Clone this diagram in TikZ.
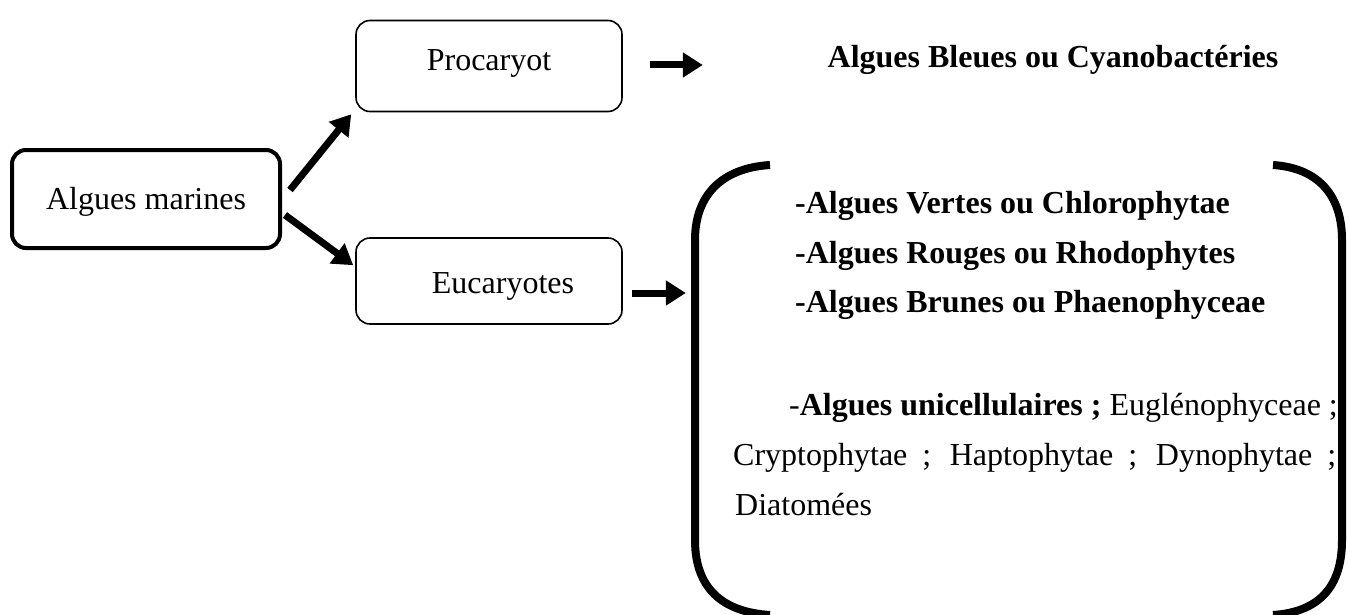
\documentclass[tikz,border=0pt]{standalone}
\usepackage{fontspec}
\setmainfont{Liberation Serif}
\usetikzlibrary{arrows.meta,calc}

\begin{document}
\begin{tikzpicture}[x=1pt,y=-1pt,
  every node/.style={font=\fontsize{32}{38}\selectfont,inner sep=0pt},
  bigbox/.style={draw,line width=4pt,rounded corners=14pt,minimum width=268pt,minimum height=98pt,text height=22pt,text depth=6pt},
  smallbox/.style={draw,line width=1.6pt,rounded corners=14pt,minimum width=266pt,text height=22pt,text depth=6pt},
  boldtext/.style={anchor=base west,font=\fontsize{32}{38}\selectfont\bfseries},
  arr/.style={line width=7pt,-{Triangle[length=20pt,width=24pt]}},
  brk/.style={line width=8pt}]
\useasboundingbox (0,0) rectangle (1348,615);
% boxes
\node[bigbox] (marines) at (146,199) {\raisebox{-2pt}{Algues marines}};
\node[smallbox,minimum height=91pt] (procaryot) at (489,66) {\raisebox{3pt}{Procaryot}};
\node[smallbox,minimum height=86pt] (eucaryotes) at (489,281) {\raisebox{-4pt}{\hspace*{28pt}Eucaryotes}};
% texts
\node[anchor=base,font=\fontsize{32}{38}\selectfont\bfseries] (bleues) at (1053,68) {Algues Bleues ou Cyanobactéries};
\node[boldtext] (vertes) at (795,213) {-Algues Vertes ou Chlorophytae};
\node[boldtext] (rouges) at (795,263) {-Algues Rouges ou Rhodophytes};
\node[boldtext] (brunes) at (795,312) {-Algues Brunes ou Phaenophyceae};
\node[anchor=base west] (unicell) at (789,415) {-\textbf{Algues unicellulaires ;} Euglénophyceae ;};
\node[anchor=base west] (crypto) at (733,465) {\makebox[603pt][s]{Cryptophytae ; Haptophytae ; Dynophytae ;}};
\node[anchor=base west] (diato) at (735,515) {Diatomées};
% arrows
\draw[arr] ([shift={(8,-9)}]marines.east) -- ([shift={(-4,2)}]procaryot.south west);
\draw[arr] ([shift={(3,16)}]marines.east) -- ([shift={(-2,28)}]eucaryotes.north west);
\draw[arr] ([shift={(27,-1)}]procaryot.east) -- ([shift={(80,-1)}]procaryot.east);
\draw[arr] ([shift={(9,12)}]eucaryotes.east) -- ([shift={(63,12)}]eucaryotes.east);
% brackets
\draw[brk] (770,165) .. controls (722,168) and (695,195) .. (695,240) -- (695,540)
  .. controls (695,588) and (722,612) .. (770,615);
\draw[brk] (1273,165) .. controls (1318,168) and (1342,195) .. (1342,240) -- (1342,540)
  .. controls (1342,588) and (1318,612) .. (1273,615);
\end{tikzpicture}
\end{document}
